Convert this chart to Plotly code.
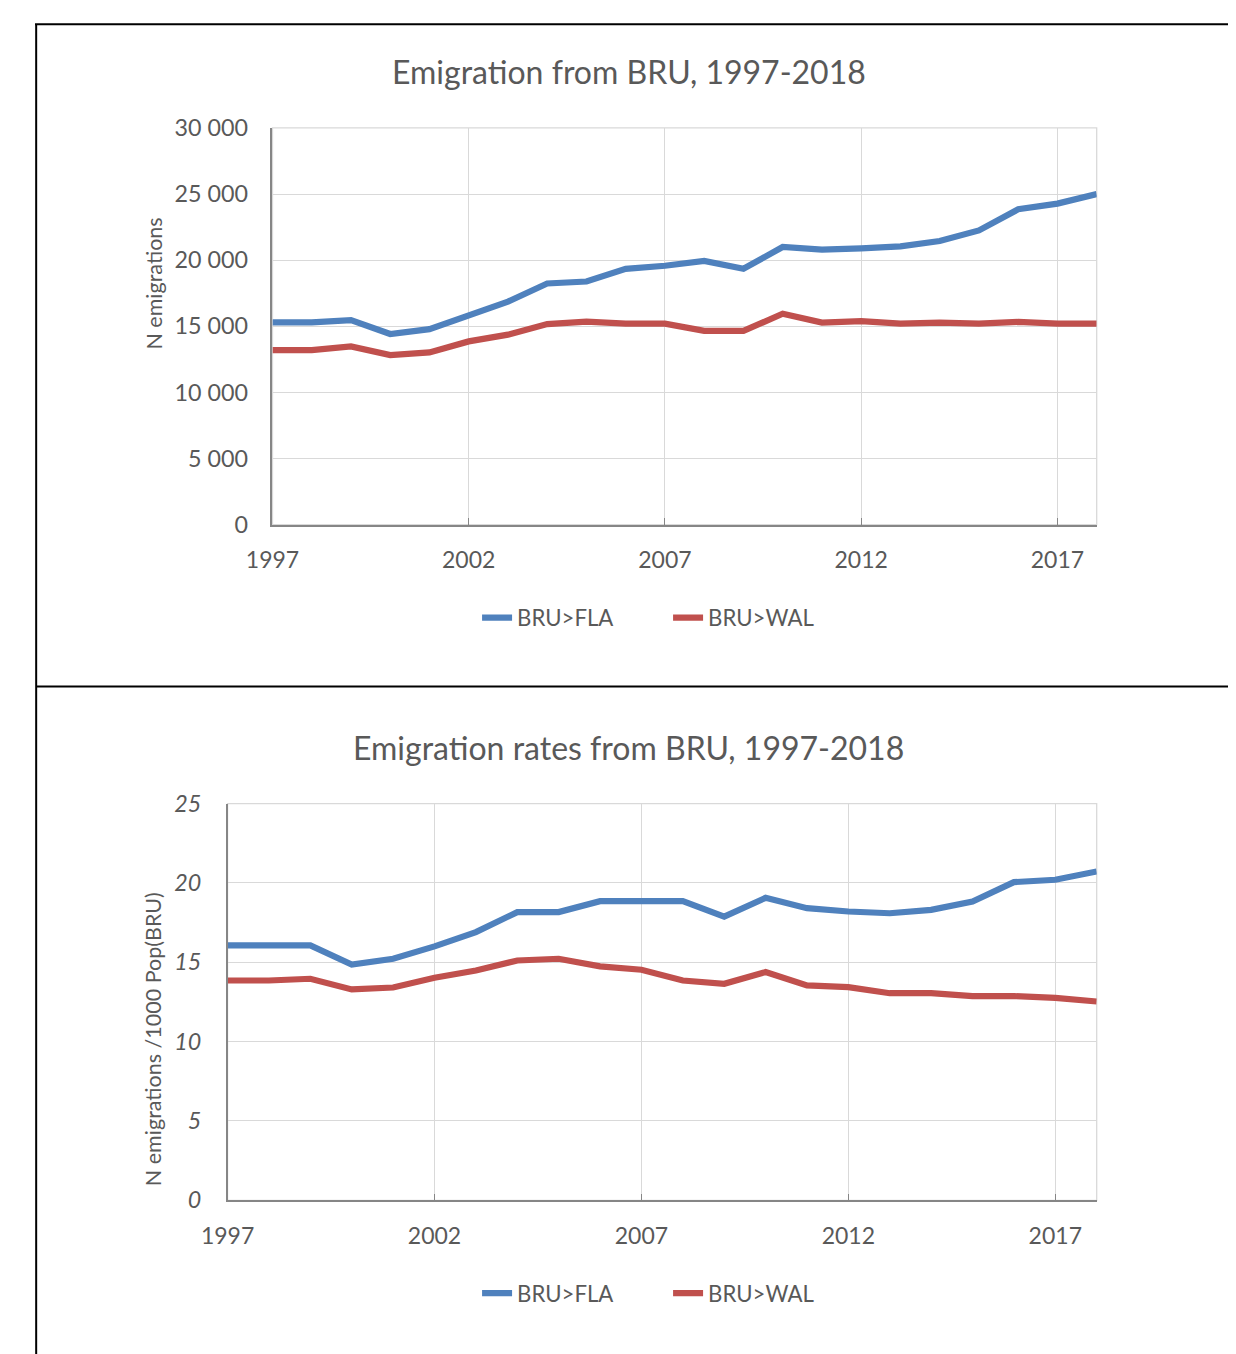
import plotly.graph_objects as go

years = list(range(1997, 2019))
series_names = ["BRU>FLA", "BRU>WAL"]

# Chart 1: number of emigrations
n_fla = [15300, 15300, 15470, 14420, 14790, 15800, 16870, 18240, 18390, 19350, 19580,
         19950, 19350, 21000, 20800, 20900, 21050, 21450, 22250, 23850, 24280, 25000]
n_wal = [13200, 13200, 13480, 12830, 13030, 13860, 14370, 15170, 15350, 15200, 15200,
         14660, 14660, 15950, 15280, 15400, 15200, 15280, 15200, 15330, 15200, 15200]

# Chart 2: emigration rates per 1000 population
r_fla = [16.06, 16.06, 16.06, 14.86, 15.22, 16.0, 16.9, 18.16, 18.16, 18.85, 18.85,
         18.85, 17.88, 19.06, 18.41, 18.2, 18.09, 18.3, 18.83, 20.05, 20.2, 20.72]
r_wal = [13.85, 13.85, 13.96, 13.29, 13.41, 14.02, 14.48, 15.11, 15.22, 14.74, 14.53,
         13.85, 13.64, 14.38, 13.54, 13.43, 13.05, 13.05, 12.87, 12.87, 12.76, 12.53]

x_ticks = [1997, 2002, 2007, 2012, 2017]
titles = ["Emigration from BRU, 1997-2018", "Emigration rates from BRU, 1997-2018"]
y_titles = ["N emigrations", "N emigrations /1000 Pop(BRU)"]

colors = ["#4F81BD", "#C0504D"]
W, H = 1220, 1362          # figure size
S, OX, OY = 0.98, 33, 22   # how figure pixels land in the final picture
FONT = "Lato"
TXT = "#595959"
GRID = "#D9D9D9"
AX = "#868686"


def fx(r):
    """paper x for a target picture pixel"""
    return ((r - OX) / S) / W


def fy(r):
    """paper y for a target picture pixel"""
    return 1 - ((r - OY) / S) / H


fig = go.Figure()
for name, vals, c in zip(series_names, [n_fla, n_wal], colors):
    fig.add_trace(go.Scatter(x=years, y=vals, name=name, mode="lines",
                             line=dict(color=c, width=6.2), xaxis="x", yaxis="y",
                             legend="legend"))
for name, vals, c in zip(series_names, [r_fla, r_wal], colors):
    fig.add_trace(go.Scatter(x=years, y=vals, name=name, mode="lines",
                             line=dict(color=c, width=6.2), xaxis="x2", yaxis="y2",
                             legend="legend2"))

common_x = dict(range=[1997, 2018], tickvals=x_ticks, showgrid=True, gridcolor=GRID,
                gridwidth=1.3, showline=True, linecolor=AX, linewidth=1.5,
                ticks="inside", ticklen=7, tickcolor=AX, zeroline=False,
                tickfont=dict(family=FONT, size=23, color=TXT), ticklabelstandoff=14)

legend_common = dict(orientation="h", xanchor="center", yanchor="middle",
                     font=dict(family=FONT, size=22.2, color=TXT), bgcolor="rgba(0,0,0,0)",
                     entrywidth=146, entrywidthmode="pixels")

LEG_X = (647.4 / W)

fig.update_layout(
    width=W, height=H,
    margin=dict(l=0, r=0, t=0, b=0),
    paper_bgcolor="white", plot_bgcolor="white",
    separators=". ",
    font=dict(family=FONT, color=TXT),
    xaxis=dict(domain=[fx(271), fx(1097)], anchor="y", **common_x),
    yaxis=dict(domain=[fy(524), fy(127)], anchor="x", range=[0, 30000], dtick=5000,
               tickformat=",d", showgrid=True, gridcolor=GRID, gridwidth=1.3,
               showline=True, linecolor=AX, linewidth=1.5, zeroline=False,
               tickfont=dict(family=FONT, size=23.3, color=TXT), ticklabelstandoff=18),
    xaxis2=dict(domain=[fx(226), fx(1097)], anchor="y2", **common_x),
    yaxis2=dict(domain=[fy(1200), fy(803)], anchor="x2", range=[0, 25], dtick=5,
                showgrid=True, gridcolor=GRID, gridwidth=1.3,
                showline=True, linecolor=AX, linewidth=1.5, zeroline=False,
                tickfont=dict(family=FONT, size=23.3, color=TXT, style="italic"),
                ticklabelstandoff=20),
    legend=dict(x=LEG_X, y=fy(617), **legend_common),
    legend2=dict(x=LEG_X, y=fy(1293), **legend_common),
)

ann = dict(xref="paper", yref="paper", showarrow=False, xanchor="center", yanchor="middle")
# chart titles and y-axis titles
fig.add_annotation(text=titles[0], x=fx(628), y=fy(71),
                   font=dict(family=FONT, size=32, color=TXT), **ann)
fig.add_annotation(text=titles[1], x=fx(628), y=fy(747),
                   font=dict(family=FONT, size=32, color=TXT), **ann)
fig.add_annotation(text=y_titles[0], x=fx(152), y=fy(283), textangle=-90,
                   font=dict(family=FONT, size=21.5, color=TXT), **ann)
fig.add_annotation(text=y_titles[1], x=fx(152), y=fy(1039), textangle=-90,
                   font=dict(family=FONT, size=21.5, color=TXT), **ann)

# plot-area borders
for xr, yr in [("x", "y"), ("x2", "y2")]:
    fig.add_shape(type="rect", xref=f"{xr} domain", yref=f"{yr} domain", x0=0, x1=1, y0=0, y1=1,
                  line=dict(color=GRID, width=1.3), layer="below")

# page frame lines (as close to the page edge as the figure allows)
LEFT = 1.2 / W
TOP = 1 - 1.2 / H
fig.add_shape(type="line", xref="paper", yref="paper", x0=0, x1=1, y0=TOP, y1=TOP,
              line=dict(color="black", width=2))
fig.add_shape(type="line", xref="paper", yref="paper", x0=LEFT, x1=LEFT, y0=TOP, y1=0,
              line=dict(color="black", width=2))
fig.add_shape(type="line", xref="paper", yref="paper", x0=LEFT, x1=1, y0=fy(686), y1=fy(686),
              line=dict(color="black", width=2))

fig.write_html("out.html")
